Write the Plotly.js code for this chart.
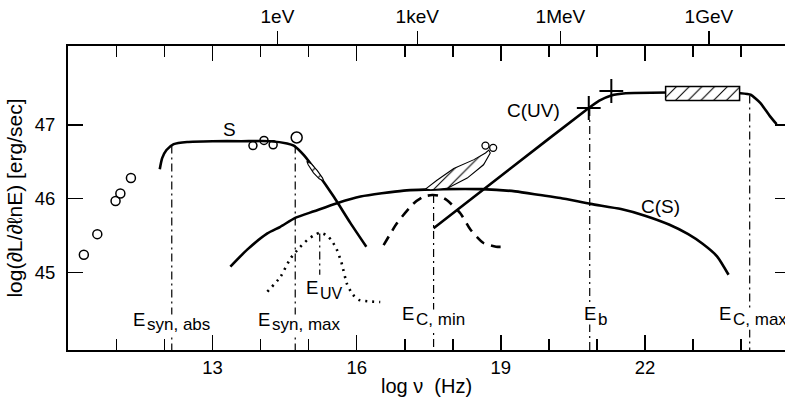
<!DOCTYPE html>
<html>
<head>
<meta charset="utf-8">
<script src="https://cdn.plot.ly/plotly-3.0.1.min.js"></script>
<style>html,body{margin:0;padding:0;background:#fff;}#chart{width:785px;height:401px;}</style>
</head>
<body>
<div id="chart"></div>
<script>
// ---------- data ----------
const xTickVals = [13, 16, 19, 22];
const xMinorVals = [11, 12, 14, 15, 17, 18, 20, 21, 23, 24];
const yTickVals = [45, 46, 47];
const energyVals = [14.35, 17.26, 20.24, 23.33];
const energyText = ['1eV', '1keV', '1MeV', '1GeV'];

// radio data points
const radioX = [10.32, 10.60, 10.98, 11.08, 11.30];
const radioY = [45.24, 45.52, 45.97, 46.07, 46.28];
// IR/optical data points
const optX = [13.84, 14.07, 14.26];
const optY = [46.72, 46.79, 46.73];
const optBigX = [14.75];
const optBigY = [46.83];
// optical spectrum (hatched loop)
const optLoopX = [14.96, 15.06, 15.18, 15.29, 15.31, 15.22, 15.10, 14.99, 14.96];
const optLoopY = [46.51, 46.47, 46.38, 46.28, 46.24, 46.27, 46.35, 46.46, 46.51];
// X-ray spectrum (hatched) and points
const xrayX = [17.43, 17.67, 18.02, 18.44, 18.68, 18.75, 18.78, 18.64, 18.30, 17.88, 17.54, 17.43];
const xrayY = [46.13, 46.25, 46.41, 46.53, 46.62, 46.66, 46.62, 46.46, 46.28, 46.14, 46.12, 46.13];
const xrayPtX = [18.68, 18.84];
const xrayPtY = [46.72, 46.69];
// gamma-ray box (EGRET)
const egretX = [22.43, 23.97];
const egretY = [47.33, 47.52];
// gamma-ray crosses
const plusX = [20.83, 21.30];
const plusY = [47.23, 47.46];

// synchrotron component S
const sX = [11.90, 11.95, 12.04, 12.19, 12.47, 13.0, 13.6, 14.2, 14.55, 14.69, 14.90, 15.18, 15.52, 15.87, 16.20];
const sY = [46.40, 46.55, 46.66, 46.74, 46.77, 46.78, 46.78, 46.78, 46.75, 46.72, 46.59, 46.35, 46.03, 45.67, 45.35];
// SSC component C(S)
const csX = [13.37, 13.72, 14.14, 14.41, 14.72, 15.11, 15.59, 16.08, 16.98, 17.8, 18.6, 19.3, 19.82, 20.24, 20.87, 21.5, 22.0, 22.5, 22.9, 23.2, 23.5, 23.74];
const csY = [45.08, 45.31, 45.53, 45.62, 45.74, 45.83, 45.94, 46.03, 46.11, 46.13, 46.13, 46.10, 46.05, 46.01, 45.93, 45.86, 45.77, 45.65, 45.52, 45.39, 45.22, 44.97];
// UV bump (dotted)
const uvX = [14.14, 14.41, 14.62, 14.80, 14.97, 15.10, 15.23, 15.36, 15.47, 15.58, 15.68, 15.80, 15.92, 16.04, 16.22, 16.49];
const uvY = [44.74, 44.94, 45.19, 45.33, 45.44, 45.50, 45.54, 45.51, 45.44, 45.32, 45.14, 44.84, 44.70, 44.63, 44.61, 44.60];
// dashed component
const dX = [16.56, 16.84, 17.19, 17.40, 17.57, 17.72, 17.88, 18.16, 18.37, 18.64, 18.90, 19.13];
const dY = [45.37, 45.67, 45.94, 46.03, 46.05, 46.04, 45.98, 45.80, 45.58, 45.40, 45.35, 45.35];
// external Compton component C(UV)
const cuX = [17.60, 19.20, 20.83, 21.05, 21.30, 21.60, 22.50, 23.50, 23.99, 24.20, 24.40, 24.60, 24.74];
const cuY = [45.60, 46.41, 47.23, 47.33, 47.40, 47.43, 47.44, 47.44, 47.43, 47.41, 47.30, 47.12, 47.01];

// characteristic energies (dash-dot markers)
const eMarkX = [12.15, 14.72, 17.60, 20.85, 24.18];
const eMarkTop = [46.72, 46.72, 46.05, 47.23, 47.40];
const eUvX = 15.23, eUvTop = 45.53, eUvBottom = 44.97;
const eLabelSubs = ['syn, abs', 'syn, max', 'UV', 'C, min', 'b', 'C, max'];

// ---------- build ----------
const xRange = [9.99, 24.915];
const yRange = [43.95, 48.07];
const FONT = 'Liberation Sans, Arial, Helvetica, sans-serif';

const vx = [], vy = [];
for (let i = 0; i < eMarkX.length; i++) {
  vx.push(eMarkX[i], eMarkX[i], null);
  vy.push(eMarkTop[i], yRange[0], null);
}
vx.push(eUvX, eUvX);
vy.push(eUvTop, eUvBottom);

const egretBoxX = [egretX[0], egretX[1], egretX[1], egretX[0], egretX[0]];
const egretBoxY = [egretY[0], egretY[0], egretY[1], egretY[1], egretY[0]];

const base = {hoverinfo: 'skip', showlegend: false};
const pattern = {shape: '/', fgcolor: 'black', bgcolor: 'white', size: 9, solidity: 0.12};

const traces = [
  Object.assign({x: vx, y: vy, mode: 'lines', line: {color: 'black', width: 1.2, dash: '8px,4px,2px,4px'}}, base),
  Object.assign({x: sX, y: sY, mode: 'lines', line: {color: 'black', width: 2.6, shape: 'spline', smoothing: 0.6}}, base),
  Object.assign({x: csX, y: csY, mode: 'lines', line: {color: 'black', width: 2.6, shape: 'spline', smoothing: 0.6}}, base),
  Object.assign({x: uvX, y: uvY, mode: 'lines', line: {color: 'black', width: 2.6, dash: '2px,5px', shape: 'spline', smoothing: 0.6}}, base),
  Object.assign({x: dX, y: dY, mode: 'lines', line: {color: 'black', width: 2.6, dash: '10px,7px', shape: 'spline', smoothing: 0.6}}, base),
  Object.assign({x: cuX, y: cuY, mode: 'lines', line: {color: 'black', width: 2.6, shape: 'spline', smoothing: 0.5}}, base),
  Object.assign({x: egretBoxX, y: egretBoxY, mode: 'lines', fill: 'toself', fillcolor: 'white', fillpattern: pattern, line: {color: 'black', width: 1.5}}, base),
  Object.assign({x: xrayX, y: xrayY, mode: 'lines', fill: 'toself', fillcolor: 'white', fillpattern: pattern, line: {color: 'black', width: 1.1}}, base),
  Object.assign({x: optLoopX, y: optLoopY, mode: 'lines', fill: 'toself', fillcolor: 'white', fillpattern: pattern, line: {color: 'black', width: 1.1}}, base),
  Object.assign({x: radioX, y: radioY, mode: 'markers', marker: {symbol: 'circle-open', size: 9, color: 'black', line: {width: 1.5}}}, base),
  Object.assign({x: optX, y: optY, mode: 'markers', marker: {symbol: 'circle-open', size: 8, color: 'black', line: {width: 1.5}}}, base),
  Object.assign({x: optBigX, y: optBigY, mode: 'markers', marker: {symbol: 'circle-open', size: 11, color: 'black', line: {width: 1.5}}}, base),
  Object.assign({x: xrayPtX, y: xrayPtY, mode: 'markers', marker: {symbol: 'circle-open', size: 7, color: 'black', line: {width: 1.3}}}, base),
  Object.assign({x: plusX, y: plusY, mode: 'markers', marker: {symbol: 'cross-thin-open', size: 17, color: 'black', line: {width: 2, color: 'black'}}}, base),
  Object.assign({x: [null], y: [null], xaxis: 'x2', yaxis: 'y', mode: 'lines'}, base),
  Object.assign({x: [null], y: [null], xaxis: 'x3', yaxis: 'y', mode: 'lines'}, base),
  Object.assign({x: [null], y: [null], xaxis: 'x', yaxis: 'y2', mode: 'lines'}, base)
];

const commonAx = {showgrid: false, zeroline: false, linecolor: 'black', tickcolor: 'black', fixedrange: true};
const minorTicks = {tickvals: xMinorVals, ticks: 'inside', ticklen: 11, tickwidth: 1.5, tickcolor: 'black', showgrid: false};

// label = big "E" plus a lowered subscript of nearly the same size
const labelPos = [[11.33, 44.36, -5], [13.93, 44.37, -5], [14.93, 44.80, -6], [16.93, 44.44, -6], [20.70, 44.44, -6], [23.51, 44.44, -6]];
const annotations = [];
labelPos.forEach((p, i) => {
  annotations.push({x: p[0], y: p[1], xref: 'x', yref: 'y', xanchor: 'left', yanchor: 'middle', showarrow: false,
    text: 'E', bgcolor: 'white', borderpad: 0, font: {family: FONT, size: 18.5, color: 'black'}});
  annotations.push({x: p[0], y: p[1], xref: 'x', yref: 'y', xanchor: 'left', yanchor: 'middle', showarrow: false,
    xshift: 14, yshift: p[2], text: eLabelSubs[i], bgcolor: 'white', borderpad: 0,
    font: {family: FONT, size: (eLabelSubs[i] === 'UV' ? 16 : 17), color: 'black'}});
});
const txt = (t, x, y) => ({x: x, y: y, xref: 'x', yref: 'y', showarrow: false, text: t,
  font: {family: FONT, size: 19, color: 'black'}});
annotations.push(txt('S', 13.36, 46.94), txt('C(UV)', 19.68, 47.20), txt('C(S)', 22.32, 45.89));

const layout = {
  width: 785, height: 401,
  margin: {l: 68, r: 0, t: 46, b: 51, pad: 0},
  paper_bgcolor: 'white', plot_bgcolor: 'white',
  font: {family: FONT, color: 'black', size: 18},
  showlegend: false,
  xaxis: Object.assign({}, commonAx, {
    range: xRange, showline: true, linewidth: 2, ticks: 'inside', ticklen: 15, tickwidth: 1.5,
    tickmode: 'array', tickvals: xTickVals, tickfont: {size: 18.5}, minor: minorTicks,
    title: {text: 'log ν\u00a0\u00a0(Hz)', font: {size: 20}, standoff: 2}
  }),
  xaxis2: Object.assign({}, commonAx, {
    range: xRange, matches: 'x', overlaying: 'x', side: 'top', anchor: 'y',
    showline: true, linewidth: 2, ticks: 'inside', ticklen: 15, tickwidth: 1.5,
    tickmode: 'array', tickvals: xTickVals, showticklabels: false, minor: minorTicks
  }),
  xaxis3: Object.assign({}, commonAx, {
    range: xRange, matches: 'x', overlaying: 'x', side: 'top', anchor: 'y',
    showline: false, ticks: 'outside', ticklen: 14, tickwidth: 1.5,
    tickmode: 'array', tickvals: energyVals, ticktext: energyText, tickfont: {size: 19}
  }),
  yaxis: Object.assign({}, commonAx, {
    range: yRange, showline: true, linewidth: 2, ticks: 'inside', ticklen: 15, tickwidth: 1.5,
    tickmode: 'array', tickvals: yTickVals, tickfont: {size: 18.5}, ticklabelstandoff: 7,
    title: {text: 'log(∂L/∂ℓnE) [erg/sec]', font: {size: 21}, standoff: 6}
  }),
  yaxis2: Object.assign({}, commonAx, {
    range: yRange, matches: 'y', overlaying: 'y', side: 'right', anchor: 'x',
    showline: false, ticks: 'inside', ticklen: 10, tickwidth: 1.5,
    tickmode: 'array', tickvals: yTickVals, showticklabels: false
  }),
  annotations: annotations
};

Plotly.newPlot('chart', traces, layout, {staticPlot: true, displayModeBar: false});
</script>
</body>
</html>
